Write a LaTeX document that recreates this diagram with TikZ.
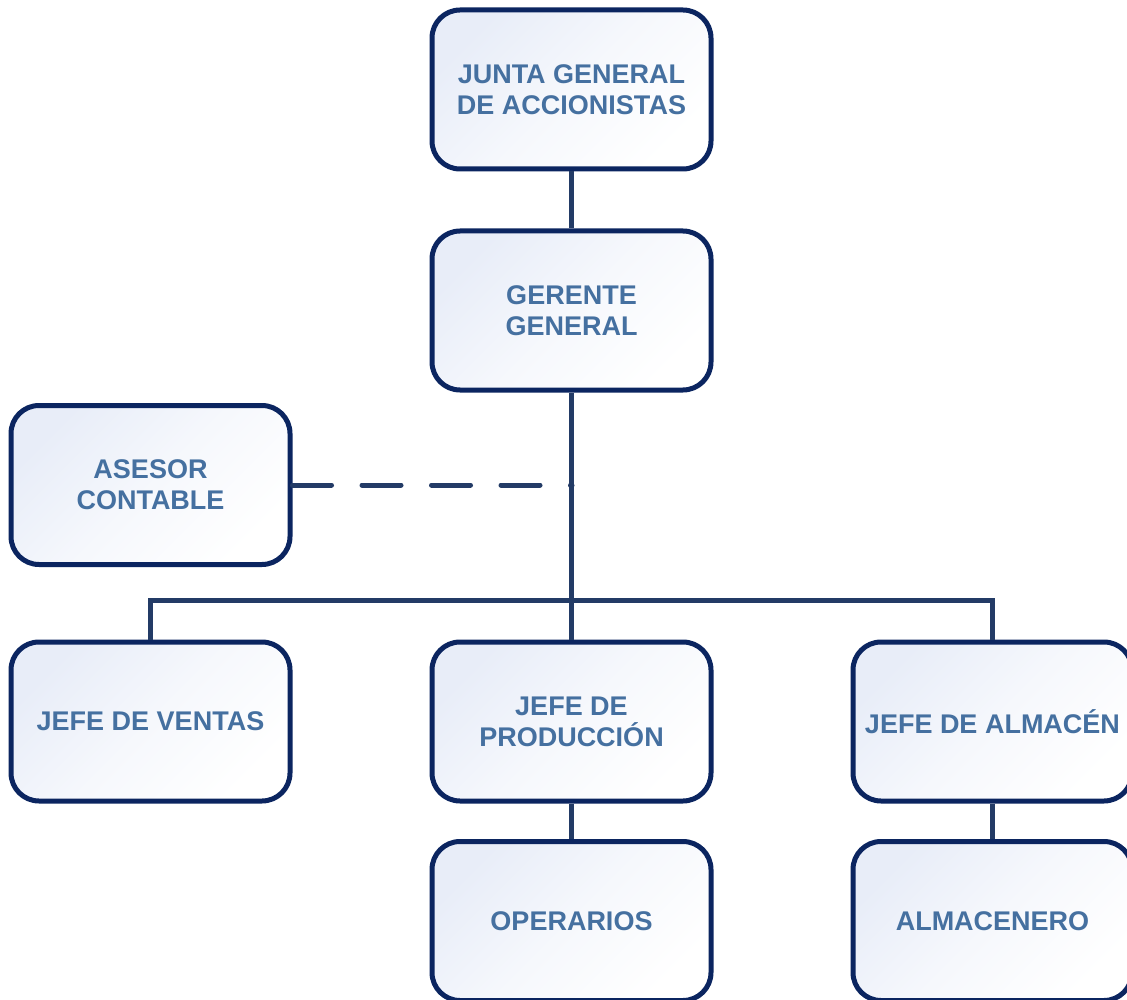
\documentclass[tikz,border=0pt]{standalone}
\usepackage{fontspec}
\setmainfont{Liberation Sans}
\definecolor{linec}{HTML}{233B66}
\definecolor{boxc}{HTML}{0B2560}
\definecolor{txtc}{HTML}{4570A0}
\definecolor{fillc}{HTML}{E8EDF8}
\tikzset{
  orgbox/.style={draw=boxc, line width=5pt, rounded corners=28pt,
    minimum width=279pt, minimum height=159pt, inner sep=0pt,
    top color=fillc, bottom color=white, middle color=white!60!fillc, shading angle=45,
    text=txtc, font=\fontsize{27}{31}\selectfont\bfseries, align=center},
  conn/.style={draw=linec, line width=5pt},
  dconn/.style={draw=linec, line width=5pt, line cap=round, dash pattern=on 39pt off 30.5pt}
}
\begin{document}
\begin{tikzpicture}[x=1pt,y=-1pt]
\useasboundingbox (0,0) rectangle (1127,1000);
\node[orgbox] (junta) at (571.5,89.5) {JUNTA GENERAL\\DE ACCIONISTAS};
\node[orgbox] (ger) at (571.5,310.5) {GERENTE\\GENERAL};
\node[orgbox] (ases) at (150.5,485) {ASESOR\\CONTABLE};
\node[orgbox] (vent) at (150.5,721.5) {JEFE DE VENTAS};
\node[orgbox] (prod) at (571.5,721.5) {JEFE DE\\PRODUCCIÓN};
\node[orgbox] (alm) at (992.5,721.5) {JEFE DE ALMACÉN};
\node[orgbox] (oper) at (571.5,921) {OPERARIOS};
\node[orgbox] (almc) at (992.5,921) {ALMACENERO};
\coordinate (dend) at (572,485);
\coordinate (bus) at (572,600);
\draw[conn] (junta.south) -- (ger.north);
\draw[conn] (ger.south) -- (prod.north);
\draw[dconn] (ases.east) -- (dend);
\draw[conn] (vent.north) |- (bus) -| (alm.north);
\draw[conn] (prod.south) -- (oper.north);
\draw[conn] (alm.south) -- (almc.north);
\end{tikzpicture}
\end{document}
